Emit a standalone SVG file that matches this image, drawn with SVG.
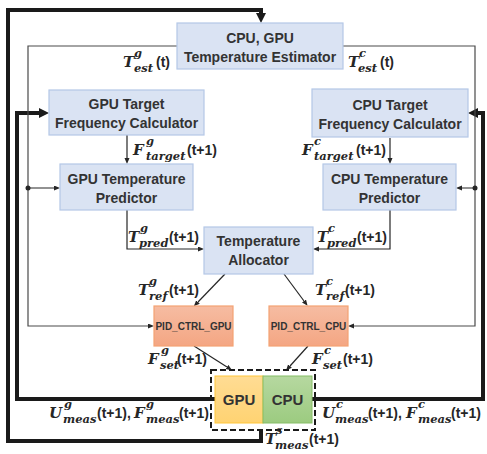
<svg xmlns="http://www.w3.org/2000/svg" width="487" height="454" viewBox="0 0 487 454">
<style>
.box{fill:#DAE3F3;stroke:#B4C7E7;stroke-width:1.2}
.pid{fill:url(#gp);stroke:#F3A273;stroke-width:1.2}
.lbl{font-family:"Liberation Sans",Arial,sans-serif;font-weight:bold;font-size:14px;fill:#333;text-anchor:middle}
.pl{font-size:10px}
.thin{fill:none;stroke:#4a4a4a;stroke-width:1.2}
.thin2{fill:none;stroke:#262626;stroke-width:1.2}
.thick{fill:none;stroke:#1a1a1a;stroke-width:4}
.m{font-family:"DejaVu Serif",serif;font-weight:bold;font-style:italic;fill:#262626}
.b{font-size:15px}
.s{font-size:11.500px}
.p{font-family:"Liberation Sans",Arial,sans-serif;font-weight:bold;font-style:normal;font-size:14px}
</style>
<defs>
<linearGradient id="gp" x1="0" y1="0" x2="0" y2="1"><stop offset="0" stop-color="#F6BCA2"/><stop offset="1" stop-color="#F4A683"/></linearGradient>
<linearGradient id="gg" x1="0" y1="0" x2="0" y2="1"><stop offset="0" stop-color="#FFDC94"/><stop offset="1" stop-color="#FFD372"/></linearGradient>
<linearGradient id="gc" x1="0" y1="0" x2="0" y2="1"><stop offset="0" stop-color="#B6D8A0"/><stop offset="1" stop-color="#9CCB80"/></linearGradient>
<marker id="ak" markerUnits="userSpaceOnUse" markerWidth="10" markerHeight="10" refX="0" refY="5" orient="auto"><path d="M0,0 L10,5 L0,10 z" fill="#1a1a1a"/></marker>
<marker id="at" markerUnits="userSpaceOnUse" markerWidth="6" markerHeight="6" refX="0" refY="2.5" orient="auto"><path d="M0,0 L6,2.5 L0,5 z" fill="#262626"/></marker>
</defs>

<g id="connectors">
<path class="thick" d="M261,430 V441 H8 V10 H261 V13" marker-end="url(#ak)"/>
<path class="thick" d="M215,399 H17 V113 H39" marker-end="url(#ak)"/>
<path class="thick" d="M312,399 H483 V113 H478" marker-end="url(#ak)"/>
<path class="thin" d="M177,46 H28 V326 H148" marker-end="url(#at)"/>
<path class="thin" d="M28,188 H54" marker-end="url(#at)"/>
<circle cx="28" cy="188" r="2.5" fill="#262626"/>
<path class="thin" d="M343,46 H475 V326 H354" marker-end="url(#at)"/>
<path class="thin" d="M475,188 H462" marker-end="url(#at)"/>
<circle cx="475" cy="188" r="2.5" fill="#262626"/>
<path class="thin2" d="M127,135 V158" marker-end="url(#at)"/>
<path class="thin2" d="M390,138 V158" marker-end="url(#at)"/>
<path class="thin2" d="M127,210 V249 H198" marker-end="url(#at)"/>
<path class="thin2" d="M390,210 V249 H319" marker-end="url(#at)"/>
<path class="thin2" d="M225,274 L198,302" marker-end="url(#at)"/>
<path class="thin2" d="M284,274 L304,301" marker-end="url(#at)"/>
<path class="thin2" d="M194,346 L227,367" marker-end="url(#at)"/>
<path class="thin2" d="M308,346 L290,366" marker-end="url(#at)"/>
</g>

<g id="estimator">
<rect class="box" x="177" y="23" width="166" height="46"/>
<text class="lbl" x="260" y="43">CPU, GPU</text>
<text class="lbl" x="260" y="62">Temperature Estimator</text>
</g>
<g id="gpu-target">
<rect class="box" x="49" y="90" width="155" height="45"/>
<text class="lbl" x="126.500" y="109">GPU Target</text>
<text class="lbl" x="126.500" y="128">Frequency Calculator</text>
</g>
<g id="cpu-target">
<rect class="box" x="312" y="89" width="156" height="48"/>
<text class="lbl" x="390" y="110">CPU Target</text>
<text class="lbl" x="390" y="129">Frequency Calculator</text>
</g>
<g id="gpu-predictor">
<rect class="box" x="60" y="164" width="133" height="46"/>
<text class="lbl" x="126.500" y="184">GPU Temperature</text>
<text class="lbl" x="126.500" y="203">Predictor</text>
</g>
<g id="cpu-predictor">
<rect class="box" x="323" y="164" width="133" height="46"/>
<text class="lbl" x="389.500" y="184">CPU Temperature</text>
<text class="lbl" x="389.500" y="203">Predictor</text>
</g>
<g id="allocator">
<rect class="box" x="204" y="227" width="109" height="47"/>
<text class="lbl" x="258.500" y="246">Temperature</text>
<text class="lbl" x="258.500" y="265">Allocator</text>
</g>
<g id="pid-gpu">
<rect class="pid" x="154" y="306" width="79" height="40"/>
<text class="lbl pl" x="193.500" y="330">PID_CTRL_GPU</text>
</g>
<g id="pid-cpu">
<rect class="pid" x="269" y="306" width="79" height="40"/>
<text class="lbl pl" x="308.500" y="330">PID_CTRL_CPU</text>
</g>
<g id="soc">
<rect x="211" y="370" width="104" height="60" fill="none" stroke="#1a1a1a" stroke-width="2" stroke-dasharray="6 3"/>
<rect x="215" y="376" width="48" height="47" fill="url(#gg)" stroke="#FFC63A" stroke-width="1"/>
<rect x="263" y="376" width="49" height="47" fill="url(#gc)" stroke="#86BD66" stroke-width="1"/>
<text class="lbl" x="239" y="405" style="font-size:15px">GPU</text>
<text class="lbl" x="287.500" y="405" style="font-size:15px">CPU</text>
</g>

<g id="labels">
<text class="m"><tspan class="b" x="123" y="67">T</tspan><tspan class="s" x="134" y="57">g</tspan><tspan class="s" x="134" y="72">est</tspan><tspan class="p" x="156" y="67">(t)</tspan></text>
<text class="m"><tspan class="b" x="348" y="67">T</tspan><tspan class="s" x="359" y="57">c</tspan><tspan class="s" x="358" y="72">est</tspan><tspan class="p" x="380" y="67">(t)</tspan></text>
<text class="m"><tspan class="b" x="133" y="155">F</tspan><tspan class="s" x="146" y="145">g</tspan><tspan class="s" x="146" y="160">target</tspan><tspan class="p" x="187" y="155">(t+1)</tspan></text>
<text class="m"><tspan class="b" x="302" y="155">F</tspan><tspan class="s" x="314" y="145">c</tspan><tspan class="s" x="314" y="160">target</tspan><tspan class="p" x="356" y="155">(t+1)</tspan></text>
<text class="m"><tspan class="b" x="128" y="242">T</tspan><tspan class="s" x="140" y="232">g</tspan><tspan class="s" x="139" y="247">pred</tspan><tspan class="p" x="169" y="242">(t+1)</tspan></text>
<text class="m"><tspan class="b" x="317" y="242">T</tspan><tspan class="s" x="328" y="232">c</tspan><tspan class="s" x="327" y="247">pred</tspan><tspan class="p" x="357" y="242">(t+1)</tspan></text>
<text class="m"><tspan class="b" x="138" y="295">T</tspan><tspan class="s" x="149" y="285">g</tspan><tspan class="s" x="149" y="300">ref</tspan><tspan class="p" x="169" y="295">(t+1)</tspan></text>
<text class="m"><tspan class="b" x="315" y="295">T</tspan><tspan class="s" x="326" y="285">c</tspan><tspan class="s" x="326" y="300">ref</tspan><tspan class="p" x="345" y="295">(t+1)</tspan></text>
<text class="m"><tspan class="b" x="148" y="364">F</tspan><tspan class="s" x="161" y="354">g</tspan><tspan class="s" x="160" y="369">set</tspan><tspan class="p" x="177" y="364">(t+1)</tspan></text>
<text class="m"><tspan class="b" x="312" y="364">F</tspan><tspan class="s" x="324" y="354">c</tspan><tspan class="s" x="323" y="369">set</tspan><tspan class="p" x="343" y="364">(t+1)</tspan></text>
<text class="m"><tspan class="b" x="49" y="418">U</tspan><tspan class="s" x="64" y="408">g</tspan><tspan class="s" x="63" y="423">meas</tspan><tspan class="p" x="97" y="418">(t+1), </tspan><tspan class="b" x="134" y="418">F</tspan><tspan class="s" x="146" y="408">g</tspan><tspan class="s" x="146" y="423">meas</tspan><tspan class="p" x="179" y="418">(t+1)</tspan></text>
<text class="m"><tspan class="b" x="322" y="418">U</tspan><tspan class="s" x="336" y="408">c</tspan><tspan class="s" x="335" y="423">meas</tspan><tspan class="p" x="368" y="418">(t+1), </tspan><tspan class="b" x="406" y="418">F</tspan><tspan class="s" x="418" y="408">c</tspan><tspan class="s" x="418" y="423">meas</tspan><tspan class="p" x="451" y="418">(t+1)</tspan></text>
<text class="m"><tspan class="b" x="265" y="444">T</tspan><tspan class="s" x="276" y="434">s</tspan><tspan class="s" x="275" y="449">meas</tspan><tspan class="p" x="309" y="444">(t+1)</tspan></text>
</g>
</svg>
